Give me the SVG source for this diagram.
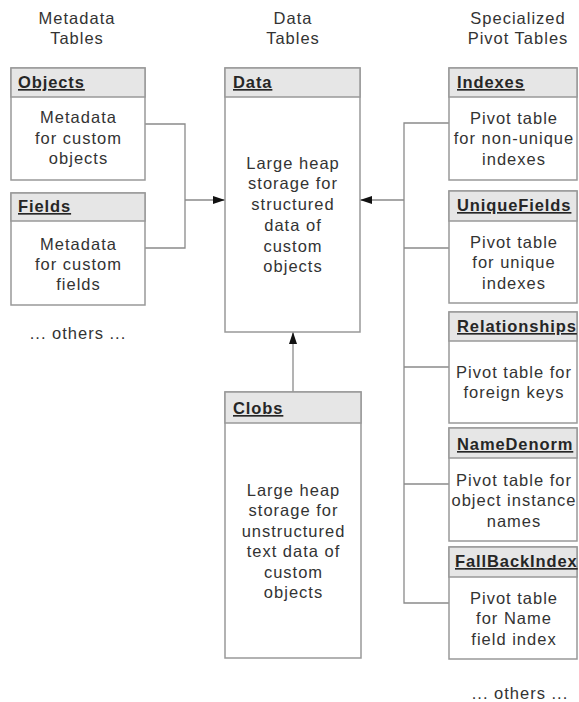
<svg xmlns="http://www.w3.org/2000/svg" width="579" height="702" viewBox="0 0 579 702">
<style>
text{font-family:"Liberation Sans",Arial,sans-serif;font-size:16.5px;fill:#333;letter-spacing:1px}
.b{text-anchor:middle}
.h{font-weight:bold;text-decoration:underline;fill:#262626;letter-spacing:0.9px}
.box{fill:#fff;stroke:#999;stroke-width:1.5}
.hd{fill:#e6e6e6;stroke:#999;stroke-width:1.5}
.c{fill:none;stroke:#8a8a8a;stroke-width:1.3}
</style>
<defs>
<marker id="arr" viewBox="0 0 12 8" refX="12" refY="4" markerWidth="12" markerHeight="8" markerUnits="userSpaceOnUse" orient="auto">
<path d="M0,0 L12,4 L0,8 Z" fill="#111"/>
</marker>
</defs>
<rect width="579" height="702" fill="#fff"/>
<g id="titles">
<text class="b" x="77" y="24">Metadata</text>
<text class="b" x="77" y="44">Tables</text>
<text class="b" x="293" y="24">Data</text>
<text class="b" x="293" y="44">Tables</text>
<text class="b" x="518" y="24">Specialized</text>
<text class="b" x="518" y="44">Pivot Tables</text>
<text class="b" x="78" y="339">... others ...</text>
<text class="b" x="520" y="699">... others ...</text>
</g>
<g id="connectors">
<path class="c" d="M145,124 H185 V248 H145"/>
<path class="c" d="M185,200 H225" marker-end="url(#arr)"/>
<path class="c" d="M449,123 H404 V603 H449 M404,248 H449 M404,367 H449 M404,484 H449"/>
<path class="c" d="M404,200 H360" marker-end="url(#arr)"/>
<path class="c" d="M293,392 V332" marker-end="url(#arr)"/>
</g>
<g id="objects">
<rect class="box" x="11" y="68" width="134" height="112"/>
<rect class="hd" x="11" y="68" width="134" height="29"/>
<text class="h" x="18" y="88">Objects</text>
<text class="b" x="78.5" y="123">Metadata</text>
<text class="b" x="78.5" y="143.5">for custom</text>
<text class="b" x="78.5" y="164">objects</text>
</g>
<g id="fields">
<rect class="box" x="11" y="193" width="134" height="112"/>
<rect class="hd" x="11" y="193" width="134" height="28"/>
<text class="h" x="18" y="212">Fields</text>
<text class="b" x="78.5" y="249.5">Metadata</text>
<text class="b" x="78.5" y="270">for custom</text>
<text class="b" x="78.5" y="290">fields</text>
</g>
<g id="data">
<rect class="box" x="225" y="68" width="135" height="264"/>
<rect class="hd" x="225" y="68" width="135" height="29"/>
<text class="h" x="233" y="88">Data</text>
<text class="b" x="293" y="168.5">Large heap</text>
<text class="b" x="293" y="189.3">storage for</text>
<text class="b" x="293" y="210">structured</text>
<text class="b" x="293" y="230.8">data of</text>
<text class="b" x="293" y="251.6">custom</text>
<text class="b" x="293" y="272.4">objects</text>
</g>
<g id="clobs">
<rect class="box" x="225" y="392" width="136" height="266"/>
<rect class="hd" x="225" y="392" width="136" height="31"/>
<text class="h" x="233" y="414">Clobs</text>
<text class="b" x="293.5" y="495.5">Large heap</text>
<text class="b" x="293.5" y="516">storage for</text>
<text class="b" x="293.5" y="536.5">unstructured</text>
<text class="b" x="293.5" y="557">text data of</text>
<text class="b" x="293.5" y="577.5">custom</text>
<text class="b" x="293.5" y="598">objects</text>
</g>
<g id="indexes">
<rect class="box" x="449" y="68" width="128" height="112"/>
<rect class="hd" x="449" y="68" width="128" height="29"/>
<text class="h" x="457" y="88">Indexes</text>
<text class="b" x="514" y="123.5">Pivot table</text>
<text class="b" x="514" y="144">for non-unique</text>
<text class="b" x="514" y="164.5">indexes</text>
</g>
<g id="uniquefields">
<rect class="box" x="449" y="191" width="128" height="112"/>
<rect class="hd" x="449" y="191" width="128" height="30"/>
<text class="h" x="457" y="211">UniqueFields</text>
<text class="b" x="514" y="247.5">Pivot table</text>
<text class="b" x="514" y="268">for unique</text>
<text class="b" x="514" y="288.5">indexes</text>
</g>
<g id="relationships">
<rect class="box" x="449" y="312" width="128" height="111"/>
<rect class="hd" x="449" y="312" width="128" height="29"/>
<text class="h" x="457" y="332">Relationships</text>
<text class="b" x="514" y="377.5">Pivot table for</text>
<text class="b" x="514" y="398">foreign keys</text>
</g>
<g id="namedenorm">
<rect class="box" x="449" y="428" width="128" height="113"/>
<rect class="hd" x="449" y="428" width="128" height="30"/>
<text class="h" x="457" y="450">NameDenorm</text>
<text class="b" x="514" y="485.5">Pivot table for</text>
<text class="b" x="514" y="506">object instance</text>
<text class="b" x="514" y="526.5">names</text>
</g>
<g id="fallbackindex">
<rect class="box" x="449" y="547" width="128" height="112"/>
<rect class="hd" x="449" y="547" width="128" height="30"/>
<text class="h" x="455" y="567">FallBackIndex</text>
<text class="b" x="514" y="603.5">Pivot table</text>
<text class="b" x="514" y="624">for Name</text>
<text class="b" x="514" y="644.5">field index</text>
</g>
</svg>
